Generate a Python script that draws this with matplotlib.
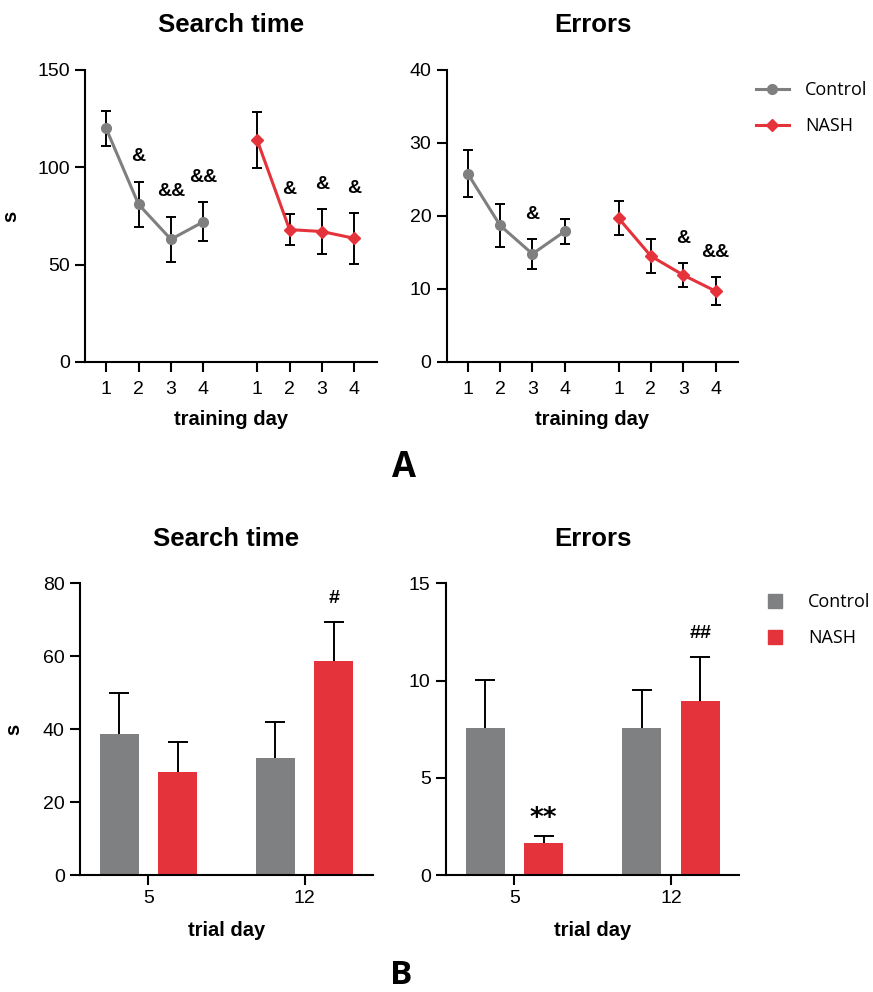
import matplotlib
matplotlib.use("Agg")
import matplotlib.pyplot as plt
from matplotlib.patches import Patch
from matplotlib.lines import Line2D

plt.rcParams['font.family'] = ['Liberation Sans', 'DejaVu Sans']
plt.rcParams['axes.linewidth'] = 1.5

GRAY = '#7f7f7f'
BAR_GRAY = '#7e8082'
RED = '#e5333c'

# Panel A: training days
train_days = ['1', '2', '3', '4']
ctrl_time = [120, 81, 63, 72]
ctrl_time_err = [9, 11.5, 11.5, 10]
nash_time = [114, 68, 67, 63.5]
nash_time_err = [14.5, 8, 11.5, 13]
ctrl_time_sig = ['', '&', '&&', '&&']
nash_time_sig = ['', '&', '&', '&']

ctrl_err = [25.8, 18.7, 14.8, 17.9]
ctrl_err_err = [3.2, 2.9, 2.0, 1.7]
nash_err = [19.7, 14.5, 11.9, 9.7]
nash_err_err = [2.3, 2.3, 1.6, 1.9]
ctrl_err_sig = ['', '', '&', '']
nash_err_sig = ['', '', '&', '&&']

# Panel B: trial days
trial_days = ['5', '12']
ctrl_trial_time = [38.6, 32.0]
ctrl_trial_time_err = [11.4, 9.9]
nash_trial_time = [28.2, 58.8]
nash_trial_time_err = [8.4, 10.5]
ctrl_trial_time_sig = ['', '']
nash_trial_time_sig = ['', '#']

ctrl_trial_err = [7.55, 7.55]
ctrl_trial_err_err = [2.5, 1.95]
nash_trial_err = [1.65, 8.95]
nash_trial_err_err = [0.37, 2.25]
ctrl_trial_err_sig = ['', '']
nash_trial_err_sig = ['**', '##']


def style_axes(ax, pad):
    for side in ['top', 'right']:
        ax.spines[side].set_visible(False)
    ax.tick_params(axis='both', direction='out', length=7, width=1.5,
                   labelsize=14, pad=4)
    ax.tick_params(axis='x', pad=pad)


def mark_sig(ax, xs, tops, labels, offset=18):
    for x, top, lab in zip(xs, tops, labels):
        if lab:
            kw = dict(fontsize=14, fontweight='bold')
            off = offset
            if '*' in lab:
                kw = dict(fontsize=19, fontweight='bold', family='DejaVu Sans')
                off = offset - 5
            ax.annotate(lab, (x, top), xytext=(0, off), textcoords='offset points',
                        ha='center', va='center', **kw)


def line_panel(ax, ctrl, ctrl_e, nash, nash_e, csig, nsig, ymax, step, title, ylabel=None):
    xc = [i + 1 for i in range(len(ctrl))]
    xn = [i + 5.66 for i in range(len(nash))]
    ax.errorbar(xc, ctrl, yerr=ctrl_e, color=GRAY, lw=2.2, marker='o', ms=7,
                ecolor='black', elinewidth=1.4, capsize=3.5, capthick=1.4, label='Control')
    ax.errorbar(xn, nash, yerr=nash_e, color=RED, lw=2.2, marker='D', ms=6,
                ecolor='black', elinewidth=1.4, capsize=3.5, capthick=1.4, label='NASH')
    mark_sig(ax, xc, [v + e for v, e in zip(ctrl, ctrl_e)], csig)
    mark_sig(ax, xn, [v + e for v, e in zip(nash, nash_e)], nsig)
    ax.set_xlim(0.35, 9.36)
    ax.set_ylim(0, ymax)
    ax.set_yticks(range(0, ymax + 1, step))
    ax.set_xticks(xc + xn)
    ax.set_xticklabels(train_days + train_days)
    ax.set_xlabel('training day', fontsize=14.5, fontweight='bold', labelpad=8)
    ax.set_title(title, fontsize=18.5, fontweight='bold', pad=27)
    if ylabel:
        ax.set_ylabel(ylabel, fontsize=14.5, fontweight='bold')
        ax.yaxis.set_label_coords(-0.222, 0.5)
    style_axes(ax, 7)


def bar_panel(ax, ctrl, ctrl_e, nash, nash_e, csig, nsig, ymax, step, title, ylabel=None):
    x = list(range(len(ctrl)))
    xc = [i - 0.187 for i in x]
    xn = [i + 0.187 for i in x]
    ax.bar(xc, ctrl, width=0.25, color=BAR_GRAY, zorder=2)
    ax.bar(xn, nash, width=0.25, color=RED, zorder=2)
    for xs, vals, errs in [(xc, ctrl, ctrl_e), (xn, nash, nash_e)]:
        eb = ax.errorbar(xs, vals, yerr=[[0] * len(vals), errs], fmt='none', ecolor='black',
                         elinewidth=1.4, capsize=7, capthick=1.4, zorder=1)
        # only the upper cap is shown
        eb[1][0].set_visible(False)
    mark_sig(ax, xc, [v + e for v, e in zip(ctrl, ctrl_e)], csig)
    mark_sig(ax, xn, [v + e for v, e in zip(nash, nash_e)], nsig, offset=17)
    ax.set_xlim(-0.437, 1.437)
    ax.set_ylim(0, ymax)
    ax.set_yticks(range(0, ymax + 1, step))
    ax.set_xticks(x)
    ax.set_xticklabels(trial_days)
    ax.set_xlabel('trial day', fontsize=14.5, fontweight='bold', labelpad=10)
    ax.set_title(title, fontsize=18.5, fontweight='bold', pad=27)
    if ylabel:
        ax.set_ylabel(ylabel, fontsize=14.5, fontweight='bold')
        ax.yaxis.set_label_coords(-0.195, 0.5)
    style_axes(ax, 4)


fig = plt.figure(figsize=(8.73, 9.92), dpi=100)

ax1 = fig.add_axes([0.0974, 0.6351, 0.3345, 0.2944])
ax2 = fig.add_axes([0.5117, 0.6351, 0.3340, 0.2944])
ax3 = fig.add_axes([0.0916, 0.1179, 0.3356, 0.2940])
ax4 = fig.add_axes([0.5109, 0.1179, 0.3360, 0.2940])

line_panel(ax1, ctrl_time, ctrl_time_err, nash_time, nash_time_err,
           ctrl_time_sig, nash_time_sig, 150, 50, 'Search time', ylabel='s')
line_panel(ax2, ctrl_err, ctrl_err_err, nash_err, nash_err_err,
           ctrl_err_sig, nash_err_sig, 40, 10, 'Errors')
bar_panel(ax3, ctrl_trial_time, ctrl_trial_time_err, nash_trial_time, nash_trial_time_err,
          ctrl_trial_time_sig, nash_trial_time_sig, 80, 20, 'Search time', ylabel='s')
bar_panel(ax4, ctrl_trial_err, ctrl_trial_err_err, nash_trial_err, nash_trial_err_err,
          ctrl_trial_err_sig, nash_trial_err_sig, 15, 5, 'Errors')

# legends
line_handles = [Line2D([], [], color=GRAY, lw=2.2, marker='o', ms=7),
                Line2D([], [], color=RED, lw=2.2, marker='D', ms=6)]
fig.legend(line_handles, ['Control', 'NASH'], loc='upper left',
           bbox_to_anchor=(0.866, 0.918), frameon=False,
           handlelength=1.8, handletextpad=0.9, labelspacing=1.0,
           borderpad=0, borderaxespad=0, prop={'family': 'Open Sans', 'size': 13})

bar_handles = [Patch(color=BAR_GRAY), Patch(color=RED)]
fig.legend(bar_handles, ['Control', 'NASH'], loc='upper left',
           bbox_to_anchor=(0.880, 0.402), frameon=False,
           handlelength=0.75, handleheight=0.75, handletextpad=1.45, labelspacing=1.0,
           borderpad=0, borderaxespad=0, prop={'family': 'Open Sans', 'size': 13})

fig.text(0.4628, 0.528, 'A', fontsize=25, fontweight='bold', family='Open Sans',
         ha='center', va='center')
fig.text(0.459, 0.017, 'B', fontsize=24, fontweight='bold', family='Open Sans',
         ha='center', va='center')

fig.savefig('out.png', dpi=100)
